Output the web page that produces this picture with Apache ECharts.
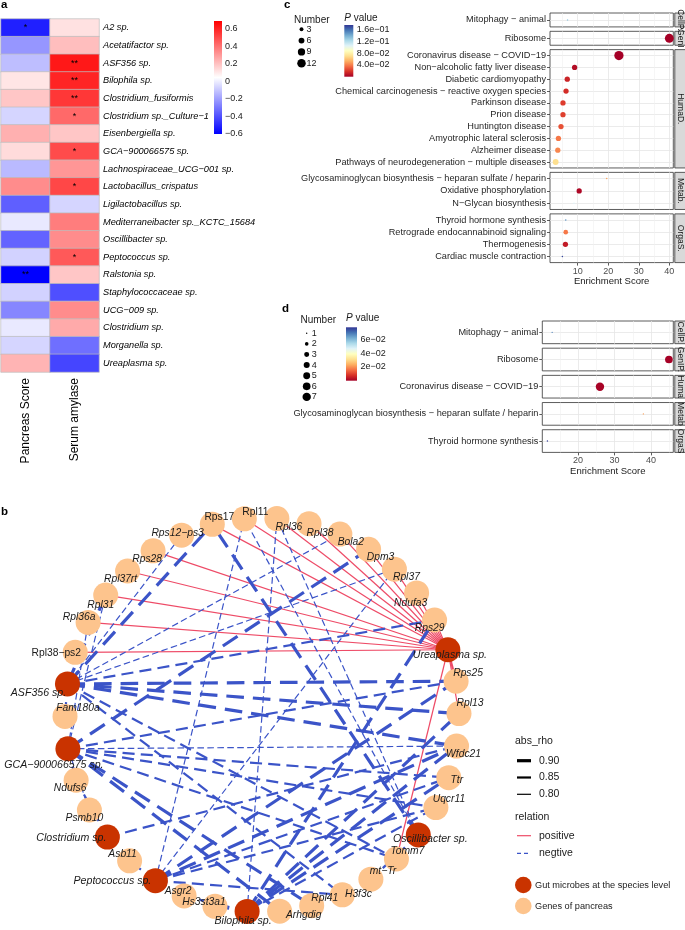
<!DOCTYPE html>
<html><head><meta charset="utf-8">
<script src="https://cdn.jsdelivr.net/npm/echarts@6/dist/echarts.min.js"></script>
<style>html,body{margin:0;padding:0;background:#fff}#chart{width:685px;height:930px}</style>
</head><body><div id="chart"></div>
<script>
// ================= DATA =================
// Panel a : heatmap of Spearman rho
const heatRows = ['A2 sp.','Acetatifactor sp.','ASF356 sp.','Bilophila sp.','Clostridium_fusiformis','Clostridium sp._Culture−1','Eisenbergiella sp.','GCA−900066575 sp.','Lachnospiraceae_UCG−001 sp.','Lactobacillus_crispatus','Ligilactobacillus sp.','Mediterraneibacter sp._KCTC_15684','Oscillibacter sp.','Peptococcus sp.','Ralstonia sp.','Staphylococcaceae sp.','UCG−009 sp.','Clostridium sp.','Morganella sp.','Ureaplasma sp.'];
const heatCols = ['Pancreas Score','Serum amylase'];
const pancreasRho = [-0.52,-0.22,-0.12,0.11,0.19,-0.06,0.245,0.135,-0.13,0.335,-0.36,-0.01,-0.35,-0.07,-0.6,-0.07,-0.26,-0.01,-0.06,0.235];
const amylaseRho  = [0.12,0.21,0.63,0.6,0.55,0.425,0.19,0.5,0.31,0.51,-0.06,0.375,0.335,0.465,0.19,-0.4,0.335,0.26,-0.32,-0.425];
const pancreasSig = ['*','','','','','','','','','','','','','','**','','','','',''];
const amylaseSig  = ['','','**','**','**','*','','*','','*','','','','*','','','','','',''];
const heatMin = -0.6, heatMax = 0.69;
const heatLegendTicks = [0.6,0.4,0.2,0,-0.2,-0.4,-0.6];

// Panel c : KEGG enrichment (all genes)
const cTerm = ['Mitophagy − animal','Ribosome','Coronavirus disease − COVID−19','Non−alcoholic fatty liver disease','Diabetic cardiomyopathy','Chemical carcinogenesis − reactive oxygen species','Parkinson disease','Prion disease','Huntington disease','Amyotrophic lateral sclerosis','Alzheimer disease','Pathways of neurodegeneration − multiple diseases','Glycosaminoglycan biosynthesis − heparan sulfate / heparin','Oxidative phosphorylation','N−Glycan biosynthesis','Thyroid hormone synthesis','Retrograde endocannabinoid signaling','Thermogenesis','Cardiac muscle contraction'];
const cFacet = ['CellP.','GenIP.','HumaD.','HumaD.','HumaD.','HumaD.','HumaD.','HumaD.','HumaD.','HumaD.','HumaD.','HumaD.','Metab.','Metab.','Metab.','OrgaS.','OrgaS.','OrgaS.','OrgaS.'];
const cScore  = [6.7,40.0,23.5,9.0,6.6,6.2,5.2,5.2,4.55,3.7,3.5,2.8,19.5,10.5,8.8,6.1,6.1,6.0,5.0];
const cNumber = [1,13,14,5,5,5,5,5,5,5,5,6,1,5,1,1,4,5,1];
const cPval   = [0.13,0.0001,0.00005,0.005,0.013,0.016,0.021,0.022,0.027,0.038,0.042,0.07,0.05,0.003,0.105,0.148,0.038,0.01,0.17];
const cNumberBreaks = [3,6,9,12];
const cPBreaks = [0.16,0.12,0.08,0.04];
const cPMax = 0.175;

// Panel d : KEGG enrichment (network genes)
const dTerm = ['Mitophagy − animal','Ribosome','Coronavirus disease − COVID−19','Glycosaminoglycan biosynthesis − heparan sulfate / heparin','Thyroid hormone synthesis'];
const dFacet = ['CellP.','GenIP.','HumaD.','Metab.','OrgaS.'];
const dScore  = [12.9,44.9,26.0,37.9,11.6];
const dNumber = [1,6,7,1,1];
const dPval   = [0.068,0.0002,0.0005,0.022,0.077];
const dNumberBreaks = [1,2,3,4,5,6,7];
const dPBreaks = [0.06,0.04,0.02];
const dPMax = 0.078;

const facetOrder = ['CellP.','GenIP.','HumaD.','Metab.','OrgaS.'];

// Panel b : correlation network (circular order, counter-clockwise from 3 o'clock)
const netNodes = ['Rpl13','Rps25','Ureaplasma sp.','Rps29','Ndufa3','Rpl37','Dpm3','Bola2','Rpl38','Rpl36','Rpl11','Rps17','Rps12−ps3','Rps28','Rpl37rt','Rpl31','Rpl36a','Rpl38−ps2','ASF356 sp.','Fam180a','GCA−900066575 sp.','Ndufs6','Psmb10','Clostridium sp.','Asb11','Peptococcus sp.','Asgr2','Hs3st3a1','Bilophila sp.','Arhgdig','Rpl41','H3f3c','mt−Tr','Tomm7','Oscillibacter sp.','Uqcr11','Ttr','Wfdc21'];
const netMicrobes = ['Ureaplasma sp.','ASF356 sp.','GCA−900066575 sp.','Clostridium sp.','Peptococcus sp.','Bilophila sp.','Oscillibacter sp.'];
const posEdges = [
 ['Ureaplasma sp.','Rpl13',0.80],['Ureaplasma sp.','Rps25',0.85],['Ureaplasma sp.','Rps29',0.80],['Ureaplasma sp.','Ndufa3',0.80],
 ['Ureaplasma sp.','Rpl37',0.80],['Ureaplasma sp.','Dpm3',0.80],['Ureaplasma sp.','Bola2',0.80],['Ureaplasma sp.','Rpl38',0.80],
 ['Ureaplasma sp.','Rpl36',0.80],['Ureaplasma sp.','Rpl11',0.80],['Ureaplasma sp.','Rps17',0.80],['Ureaplasma sp.','Rps28',0.80],
 ['Ureaplasma sp.','Rpl37rt',0.80],['Ureaplasma sp.','Rpl31',0.80],['Ureaplasma sp.','Rpl36a',0.80],['Ureaplasma sp.','Rpl38−ps2',0.80],
 ['Ureaplasma sp.','Tomm7',0.80]
];
const negEdges = [
 ['ASF356 sp.','Rps25',0.90],['ASF356 sp.','Rpl13',0.90],['ASF356 sp.','Wfdc21',0.90],['ASF356 sp.','Rps29',0.85],
 ['ASF356 sp.','Rpl37',0.80],['ASF356 sp.','Bola2',0.80],['ASF356 sp.','Rps17',0.90],['ASF356 sp.','Rps12−ps3',0.80],
 ['ASF356 sp.','Rpl31',0.90],['ASF356 sp.','Fam180a',0.85],['ASF356 sp.','H3f3c',0.85],['ASF356 sp.','Tomm7',0.85],
 ['GCA−900066575 sp.','Dpm3',0.90],['GCA−900066575 sp.','Rps25',0.85],['GCA−900066575 sp.','Ttr',0.85],['GCA−900066575 sp.','Uqcr11',0.85],
 ['GCA−900066575 sp.','Tomm7',0.85],['GCA−900066575 sp.','Rpl41',0.90],['GCA−900066575 sp.','Arhgdig',0.90],['GCA−900066575 sp.','Rpl31',0.80],
 ['GCA−900066575 sp.','Rpl36a',0.80],['GCA−900066575 sp.','Psmb10',0.80],['GCA−900066575 sp.','Ndufs6',0.85],['GCA−900066575 sp.','Wfdc21',0.80],
 ['Clostridium sp.','Wfdc21',0.85],['Clostridium sp.','Ndufs6',0.85],
 ['Peptococcus sp.','Rpl11',0.80],['Peptococcus sp.','Rpl37',0.80],['Peptococcus sp.','Rps25',0.90],['Peptococcus sp.','Ttr',0.85],
 ['Peptococcus sp.','Wfdc21',0.90],['Peptococcus sp.','H3f3c',0.85],['Peptococcus sp.','Asb11',0.85],['Peptococcus sp.','Uqcr11',0.85],
 ['Bilophila sp.','Wfdc21',0.90],['Bilophila sp.','Ttr',0.90],['Bilophila sp.','Rpl13',0.90],['Bilophila sp.','Rps29',0.90],
 ['Bilophila sp.','Rpl36',0.80],['Bilophila sp.','Hs3st3a1',0.85],['Bilophila sp.','Asgr2',0.85],['Bilophila sp.','Uqcr11',0.85],
 ['Oscillibacter sp.','Rpl11',0.80],['Oscillibacter sp.','Rpl36',0.80],['Oscillibacter sp.','Rps17',0.90],['Oscillibacter sp.','mt−Tr',0.85]
];
const rhoLegend = [0.90,0.85,0.80];

// ================= LAYOUT / STYLE =================
const FONT = '"Liberation Sans", Arial, Helvetica, sans-serif';
const TXT = '#1a1a1a';
const RDYLBU = ['#A50026','#D73027','#F46D43','#FDAE61','#FEE090','#FFFFBF','#E0F3F8','#ABD9E9','#74ADD1','#4575B4','#313695'];
const netLabelOffset = {
 'Rpl13':[11,-10],'Rps25':[12,-8],'Ureaplasma sp.':[2,5],'Rps29':[-5,8],'Ndufa3':[-6,10],'Rpl37':[12,8],'Dpm3':[12,8],'Bola2':[11,8],
 'Rpl38':[11,9],'Rpl36':[12,9],'Rpl11':[11,-7],'Rps17':[7,-7],'Rps12−ps3':[-4,-2],'Rps28':[-6,8],'Rpl37rt':[-7,8],'Rpl31':[-5,10],
 'Rpl36a':[-9,-5],'Rpl38−ps2':[-19,1],'ASF356 sp.':[-29,9],'Fam180a':[13,-8],'GCA−900066575 sp.':[-14,16],'Ndufs6':[-6,8],
 'Psmb10':[-5,8],'Clostridium sp.':[-36,1],'Asb11':[-7,-7],'Peptococcus sp.':[-43,0],'Asgr2':[-6,-5],'Hs3st3a1':[-11,-4],
 'Bilophila sp.':[-4,10],'Arhgdig':[24,4],'Rpl41':[13,-7],'H3f3c':[16,-1],'mt−Tr':[12,-8],'Tomm7':[11,-8],'Oscillibacter sp.':[12,4],
 'Uqcr11':[13,-8],'Ttr':[8,2],'Wfdc21':[7,8]
};
const uprightLabels = ['Rps17','Rpl11','Rpl38−ps2'];
const MICROBE_COL = '#C93300', GENE_COL = '#FDC48D';
const POS_COL = '#EE4B67', NEG_COL = '#3B54C8';
function rhoWidth(r){ return r >= 0.895 ? 3.2 : (r >= 0.845 ? 2.2 : 1.2); }
function negDash(w){ return [5.5*w, 2.8*w]; }

const sizeC = n => { const m = Math.max(...cNumber); return 1.54*Math.sqrt(1 + 35*(n-1)/(m-1)); };
const sizeD = n => { const m = Math.max(...dNumber); return 1.4*Math.sqrt(1 + 35*(n-1)/(m-1)); };

function fmtExp(p, d){
  const s = p.toExponential(d).split('e');
  const e = parseInt(s[1],10);
  return s[0] + 'e' + (e<0?'−':'+') + String(Math.abs(e)).padStart(2,'0');
}
function fmtNum(v){ return (v<0?'−':'') + String(Math.abs(v)); }

const option = {
  animation:false, backgroundColor:'#fff', textStyle:{fontFamily:FONT},
  grid:[], xAxis:[], yAxis:[], series:[], visualMap:[], graphic:{elements:[]},
  polar:{center:[262,715], radius:197},
  angleAxis:{type:'value', min:0, max:netNodes.length, startAngle:0.4, clockwise:false, show:false,
    axisLine:{show:false}, axisTick:{show:false}, axisLabel:{show:false}, splitLine:{show:false}},
  radiusAxis:{type:'value', min:0, max:1, show:false,
    axisLine:{show:false}, axisTick:{show:false}, axisLabel:{show:false}, splitLine:{show:false}}
};
const G = option.graphic.elements;
function txt(x, y, text, o){
  o = o || {};
  G.push({type:'text', x:x, y:y, rotation:o.rotation||0, silent:true, z:10,
    style:Object.assign({text:text, fill:o.fill||TXT, fontSize:o.size||10, fontFamily:FONT,
      fontStyle:o.italic?'italic':'normal', fontWeight:o.bold?'bold':'normal',
      align:o.align||'left', textAlign:o.align||'left', verticalAlign:'middle', textVerticalAlign:'middle'}, o.extra||{})});
}

// ---------- Panel a ----------
option.grid.push({left:1, top:19, width:98, height:353, show:false});
option.xAxis.push({type:'category', gridIndex:0, data:heatCols, position:'bottom',
  axisLine:{show:false}, axisTick:{show:false}, splitLine:{show:false},
  axisLabel:{rotate:90, fontSize:12, color:'#000', margin:6, interval:0}});
option.yAxis.push({type:'category', gridIndex:0, data:heatRows, inverse:true, position:'right',
  axisLine:{show:false}, axisTick:{show:false}, splitLine:{show:false},
  axisLabel:{fontSize:9.2, fontStyle:'italic', color:'#000', margin:4, interval:0}});
const heatData = [];
heatRows.forEach((r,i)=>{ heatData.push([0,i,pancreasRho[i]]); heatData.push([1,i,amylaseRho[i]]); });
const sigLookup = [pancreasSig, amylaseSig];
option.series.push({type:'heatmap', xAxisIndex:0, yAxisIndex:0, data:heatData, silent:true,
  itemStyle:{borderColor:'#bdbdbd', borderWidth:0.7},
  label:{show:true, formatter:p=>sigLookup[p.data[0]][p.data[1]], fontSize:9, color:'#000', fontFamily:FONT},
  emphasis:{disabled:true}});
option.visualMap.push({type:'continuous', show:false, min:heatMin, max:heatMax, dimension:2, seriesIndex:0,
  inRange:{color:['#0000FF','#FFFFFF','#FF0000']}});
// colour key
(function(){
  const x=214, y0=21, h=113;
  G.push({type:'rect', shape:{x:x, y:y0, width:8, height:h}, silent:true,
    style:{fill:new echarts.graphic.LinearGradient(0,0,0,1,[{offset:0,color:'#FF0000'},{offset:0.5,color:'#FFFFFF'},{offset:1,color:'#0000FF'}])}});
  heatLegendTicks.forEach(v=>{
    const y = y0 + h - (v-heatMin)/(heatMax-heatMin)*h;
    txt(225, y, fmtNum(v), {size:9});
  });
})();

// ---------- Panels c & d ----------
function addFacetPanel(P){
  const first = option.series.length;
  let y = P.top;
  facetOrder.forEach((f, fi)=>{
    const idx = P.facet.map((g,i)=> g===f ? i : -1).filter(i=>i>=0);
    const h = P.unit*(idx.length + 0.2);
    const gi = option.grid.length;
    const isLast = fi === facetOrder.length-1;
    option.grid.push({left:P.left, top:y, width:P.right-P.left, height:h, show:true,
      borderColor:'#333', borderWidth:0.8, backgroundColor:'#fff'});
    const xi = option.xAxis.length;
    option.xAxis.push({type:'value', gridIndex:gi, min:P.xMin, max:P.xMax, position:'bottom',
      axisLine:{show:false},
      axisTick:{show:isLast, customValues:P.major, length:3, lineStyle:{color:'#333', width:0.8}},
      axisLabel:{show:isLast, customValues:P.major, fontSize:9, color:'#4d4d4d', margin:4},
      splitLine:{show:true, lineStyle:{color:'#e6e6e6', width:0.8}},
      name:isLast?'Enrichment Score':'', nameLocation:'middle', nameGap:14,
      nameTextStyle:{fontSize:9.5, color:TXT}});
    option.xAxis.push({type:'value', gridIndex:gi, min:P.xMin, max:P.xMax, position:'top',
      axisLine:{show:false}, axisTick:{show:false, customValues:P.minor}, axisLabel:{show:false, customValues:P.minor},
      splitLine:{show:true, lineStyle:{color:'#f0f0f0', width:0.6}}});
    const yi = option.yAxis.length;
    option.yAxis.push({type:'category', gridIndex:gi, data:idx.map(i=>P.term[i]), inverse:true,
      axisLine:{show:false},
      axisTick:{show:true, alignWithLabel:true, length:3, lineStyle:{color:'#333', width:0.8}},
      axisLabel:{fontSize:9.2, color:'#262626', margin:4, interval:0},
      splitLine:{show:true, alignWithLabel:true, lineStyle:{color:'#e6e6e6', width:0.8}}});
    option.series.push({type:'scatter', xAxisIndex:xi, yAxisIndex:yi, silent:true, clip:true, z:3,
      data:idx.map(i=>[P.score[i], P.term[i], P.number[i], P.pval[i]]),
      symbolSize:v=>P.sizeFn(v[2]), itemStyle:{opacity:1}});
    // strip
    G.push({type:'rect', shape:{x:P.right+1.5, y:y, width:14, height:h}, silent:true,
      style:{fill:'#d9d9d9', stroke:'#333', lineWidth:0.8}});
    txt(P.right+7.3, y+h/2, f, {size:8.5, align:'center', rotation:-Math.PI/2,
      extra:{width:h+P.stripSpill, overflow:'truncate', ellipsis:''}});
    y += h + P.gap;
  });
  const sIdx = []; for(let s=first; s<option.series.length; s++) sIdx.push(s);
  option.visualMap.push({type:'continuous', show:false, min:0, max:P.pMax, dimension:3, seriesIndex:sIdx,
    inRange:{color:RDYLBU.slice()}});
  // legends
  const L = P.legend;
  txt(L.numX, L.numY, 'Number', {size:10});
  P.numberBreaks.forEach((n,i)=>{
    const cy = L.dotY0 + i*L.dotStep;
    G.push({type:'circle', shape:{cx:L.dotX, cy:cy, r:P.sizeFn(n)/2}, silent:true, style:{fill:'#000'}});
    txt(L.dotX+5, cy, String(n), {size:9});
  });
  txt(L.barX, L.numY-2, '{i|P} value', {size:10, extra:{rich:{i:{fontStyle:'italic', fontSize:10, fontFamily:FONT, fill:TXT}}}});
  const stops = RDYLBU.slice().reverse().map((c,i,a)=>({offset:i/(a.length-1), color:c}));
  G.push({type:'rect', shape:{x:L.barX, y:L.barY, width:L.barW, height:L.barH}, silent:true,
    style:{fill:new echarts.graphic.LinearGradient(0,0,0,1,stops)}});
  P.pBreaks.forEach(p=>{
    const yy = L.barY + L.barH - p/P.pMax*L.barH;
    txt(L.barX+L.barW+3.5, yy, fmtExp(p, P.expDigits), {size:9});
  });
}
addFacetPanel({term:cTerm, facet:cFacet, score:cScore, number:cNumber, pval:cPval, sizeFn:sizeC,
  left:550, right:673.3, top:13, unit:11.6, gap:4.4, xMin:0.95, xMax:41.3, stripSpill:10,
  major:[10,20,30,40], minor:[5,15,25,35], pMax:cPMax, pBreaks:cPBreaks, numberBreaks:cNumberBreaks, expDigits:1,
  legend:{numX:294, numY:20, dotX:301.5, dotY0:29.3, dotStep:11.3, barX:344.3, barY:25, barW:9, barH:51.7}});
addFacetPanel({term:dTerm, facet:dFacet, score:dScore, number:dNumber, pval:dPval, sizeFn:sizeD,
  left:542.3, right:673.3, top:321, unit:18.9, gap:4.5, xMin:10.2, xMax:46.1, stripSpill:4,
  major:[20,30,40], minor:[15,25,35,45], pMax:dPMax, pBreaks:dPBreaks, numberBreaks:dNumberBreaks, expDigits:0,
  legend:{numX:300.5, numY:320, dotX:306.7, dotY0:333.3, dotStep:10.6, barX:346, barY:327.3, barW:11, barH:53.4}});

// ---------- Panel b : network ----------
const nodes = netNodes.map((n,i)=>{
  const isM = netMicrobes.indexOf(n) >= 0;
  return {name:n, value:[1,i], symbolSize:25,
    itemStyle:{color:isM?MICROBE_COL:GENE_COL},
    label:{show:true, position:'inside',
      fontStyle:uprightLabels.indexOf(n)>=0?'normal':'italic',
      fontSize:isM?10.6:10.3, color:TXT, fontFamily:FONT, textBorderWidth:0}};
});
const links = [];
posEdges.forEach(e=>links.push({source:e[0], target:e[1], value:e[2],
  lineStyle:{color:POS_COL, width:rhoWidth(e[2]), type:'solid', opacity:1}}));
negEdges.forEach(e=>{ const w = rhoWidth(e[2]); links.push({source:e[0], target:e[1], value:e[2],
  lineStyle:{color:NEG_COL, width:w, type:negDash(w), opacity:1}}); });
option.series.push({type:'graph', coordinateSystem:'polar', polarIndex:0, layout:'none',
  data:nodes, links:links, silent:true, z:2, edgeSymbol:['none','none'],
  lineStyle:{curveness:0, opacity:1}, emphasis:{disabled:true},
  labelLayout:function(p){
    if (p.dataType === 'edge') return {};
    const o = netLabelOffset[netNodes[p.dataIndex]] || [0,0];
    return {dx:o[0], dy:o[1], hideOverlap:false};
  }});

// network legend
txt(515, 741, 'abs_rho', {size:10.5});
rhoLegend.forEach((r,i)=>{
  const yy = 760.7 + i*16.8;
  G.push({type:'line', shape:{x1:517, y1:yy, x2:531, y2:yy}, silent:true, style:{stroke:'#000', lineWidth:rhoWidth(r)}});
  txt(539, yy, r.toFixed(2), {size:10.5});
});
txt(515, 816.7, 'relation', {size:10.5});
G.push({type:'line', shape:{x1:517, y1:835.7, x2:531, y2:835.7}, silent:true, style:{stroke:POS_COL, lineWidth:1.2}});
txt(539, 835.7, 'positive', {size:10.5});
G.push({type:'line', shape:{x1:517, y1:853.3, x2:531, y2:853.3}, silent:true, style:{stroke:NEG_COL, lineWidth:1.2, lineDash:[4,3]}});
txt(539, 853.3, 'negtive', {size:10.5});
G.push({type:'circle', shape:{cx:523.3, cy:885, r:8.3}, silent:true, style:{fill:MICROBE_COL}});
txt(535, 885, 'Gut microbes at the species level', {size:9.2});
G.push({type:'circle', shape:{cx:523.3, cy:906, r:8.3}, silent:true, style:{fill:GENE_COL}});
txt(535, 906, 'Genes of pancreas', {size:9.2});

// panel letters
txt(1, 5, 'a', {size:11.5, bold:true, fill:'#000'});
txt(284, 5, 'c', {size:11.5, bold:true, fill:'#000'});
txt(282, 309, 'd', {size:11.5, bold:true, fill:'#000'});
txt(1, 512, 'b', {size:11.5, bold:true, fill:'#000'});

const chart = echarts.init(document.getElementById('chart'), null, {renderer:'canvas', width:685, height:930});
chart.setOption(option);
</script>
</body></html>
